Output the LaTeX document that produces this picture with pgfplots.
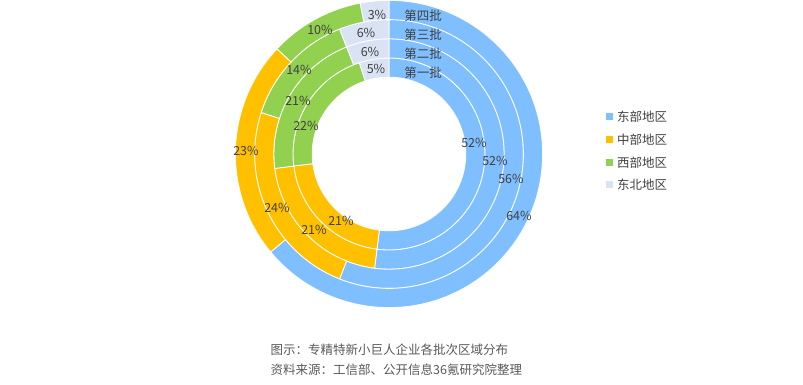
\documentclass[border=0pt]{standalone}
\usepackage{pgfplots}
\pgfplotsset{compat=1.18}
\usepackage{pgfplotstable}
\usepackage{fontspec}
\setmainfont{Noto Sans CJK SC}

\definecolor{cEast}{HTML}{7FBFFF}
\definecolor{cCentral}{HTML}{FFC000}
\definecolor{cWest}{HTML}{92D050}
\definecolor{cNE}{HTML}{DAE3F3}
\definecolor{txt}{HTML}{404040}
\definecolor{cap}{HTML}{595959}

% share of each region (%) per batch; row 0 = first batch (innermost ring)
\pgfplotstableread{
batch east central west northeast
1 52 21 22 5
2 52 21 21 6
3 56 24 14 6
4 64 23 10 3
}\shares

\newcommand\pctfont{\fontsize{12.5bp}{14bp}\selectfont}

\newcommand\sector[3]{%
  \pgfplotstablegetelem{#1}{#2}\of\shares
  \pgfmathsetmacro\a{90-3.6*\cum}%
  \pgfmathsetmacro\cum{\cum+\pgfplotsretval}%
  \pgfmathsetmacro\b{90-3.6*\cum}%
  \pgfmathsetmacro\rin{76.8+19.2*#1}%
  \pgfmathsetmacro\rout{\rin+19.2}%
  \edef\temp{\noexpand\fill[#3,draw=white,line width=0.8bp,shift={(axis cs:389,230.5)}]
    (\a:\rout bp) arc[start angle=\a,end angle=\b,radius=\rout bp]
    -- (\b:\rin bp) arc[start angle=\b,end angle=\a,radius=\rin bp] -- cycle;}%
  \temp
}
\newcommand\seclabel[4]{%
  \pgfplotstablegetelem{#1}{#2}\of\shares
  \edef\temp{\noexpand\node[font=\noexpand\pctfont,text=txt,inner sep=0pt] at (axis cs:#3,#4) {\pgfplotsretval\noexpand\%};}%
  \temp
}

\begin{document}
\begin{tikzpicture}
\path (0,0) rectangle (803bp,384bp);
\begin{axis}[x=1bp,y=1bp,xmin=0,xmax=803,ymin=0,ymax=384,
  hide axis,clip=false,anchor=south west,at={(0,0)}]
\pgfplotsforeachungrouped \i in {0,1,2,3}{%
  \def\cum{0}%
  \edef\ii{\i}%
  \sector{\ii}{east}{cEast}%
  \sector{\ii}{central}{cCentral}%
  \sector{\ii}{west}{cWest}%
  \sector{\ii}{northeast}{cNE}%
}
% east labels
\seclabel{0}{east}{474}{242}
\seclabel{1}{east}{495}{224}
\seclabel{2}{east}{511}{206}
\seclabel{3}{east}{519}{169}
% central labels
\seclabel{0}{central}{341}{164}
\seclabel{1}{central}{314}{155}
\seclabel{2}{central}{277}{177}
\seclabel{3}{central}{246}{234}
% west labels
\seclabel{0}{west}{306}{259}
\seclabel{1}{west}{298}{284}
\seclabel{2}{west}{299}{315}
\seclabel{3}{west}{320}{355}
% northeast labels
\seclabel{0}{northeast}{376}{316}
\seclabel{1}{northeast}{370}{333}
\seclabel{2}{northeast}{366}{352}
\seclabel{3}{northeast}{377}{370}
% ring names
\node[font=\pctfont,text=txt,inner sep=0pt] at (axis cs:423,312) {第一批};
\node[font=\pctfont,text=txt,inner sep=0pt] at (axis cs:423,331) {第二批};
\node[font=\pctfont,text=txt,inner sep=0pt] at (axis cs:423,350) {第三批};
\node[font=\pctfont,text=txt,inner sep=0pt] at (axis cs:423,369) {第四批};
% legend
\fill[cEast] (axis cs:606,265) rectangle (axis cs:612.5,271.5);
\node[font=\pctfont,text=txt,anchor=west,inner sep=0pt] at (axis cs:617,268) {东部地区};
\fill[cCentral] (axis cs:606,242) rectangle (axis cs:612.5,248.5);
\node[font=\pctfont,text=txt,anchor=west,inner sep=0pt] at (axis cs:617,245) {中部地区};
\fill[cWest] (axis cs:606,219) rectangle (axis cs:612.5,225.5);
\node[font=\pctfont,text=txt,anchor=west,inner sep=0pt] at (axis cs:617,222) {西部地区};
\fill[cNE] (axis cs:606,197) rectangle (axis cs:612.5,203.5);
\node[font=\pctfont,text=txt,anchor=west,inner sep=0pt] at (axis cs:617,200) {东北地区};
% caption
\node[font=\pctfont,text=cap,anchor=west,inner sep=0pt] at (axis cs:270.5,35) {图示：专精特新小巨人企业各批次区域分布};
\node[font=\pctfont,text=cap,anchor=west,inner sep=0pt] at (axis cs:270.5,15) {资料来源：工信部、公开信息36氪研究院整理};
\end{axis}
\end{tikzpicture}
\end{document}
